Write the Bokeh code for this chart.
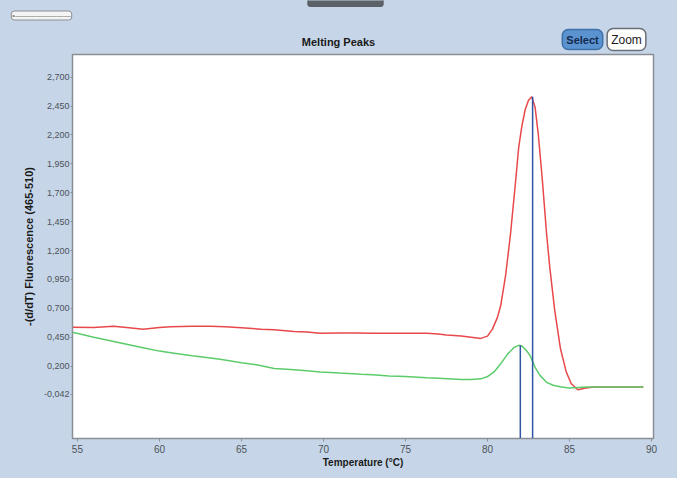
from bokeh.plotting import figure
from bokeh.models import FixedTicker, Range1d, Label
from bokeh.layouts import column, row
from bokeh.embed import file_html
from bokeh.resources import INLINE

# ---- data ----
red_temp = [54.7, 56, 57.2, 58, 59, 60, 60.7, 62, 63.1, 64, 65, 66.2, 67, 68.2, 69, 69.8, 71, 72,
            73, 74.3, 75, 76.3, 77, 77.5, 78.4, 79.0, 79.6, 80.0, 80.3, 80.6, 80.8, 81.1, 81.4, 81.7,
            81.9, 82.1, 82.3, 82.5, 82.7, 82.9, 83.1, 83.35, 83.6, 83.8, 84.1, 84.45, 84.8, 85.1,
            85.5, 86, 86.5, 87, 88, 89, 89.5]
red_val = [0.537, 0.535, 0.546, 0.535, 0.52, 0.535, 0.54, 0.545, 0.546, 0.54, 0.532, 0.52, 0.515,
           0.50, 0.495, 0.485, 0.487, 0.486, 0.485, 0.485, 0.485, 0.485, 0.478, 0.47, 0.46, 0.45,
           0.44, 0.46, 0.52, 0.62, 0.72, 0.98, 1.34, 1.78, 2.09, 2.28, 2.42, 2.50, 2.53, 2.44, 2.20,
           1.80, 1.35, 1.05, 0.68, 0.35, 0.15, 0.05, -0.005, 0.01, 0.02, 0.02, 0.02, 0.02, 0.02]

green_temp = [54.7, 56, 57, 58, 59, 60, 61, 62, 63.7, 65, 66, 67, 68, 69, 69.8, 71, 72.3, 73, 74,
              75, 76.3, 77, 78.4, 79, 79.6, 80.0, 80.4, 80.8, 81.2, 81.6, 81.9, 82.1, 82.4, 82.6,
              82.9, 83.2, 83.6, 84.0, 84.5, 85, 86, 87, 88, 89.5]
green_val = [0.493, 0.45, 0.42, 0.39, 0.36, 0.33, 0.31, 0.29, 0.26, 0.23, 0.21, 0.18, 0.17, 0.16,
             0.15, 0.14, 0.13, 0.125, 0.115, 0.11, 0.10, 0.095, 0.085, 0.085, 0.09, 0.11, 0.15,
             0.22, 0.30, 0.36, 0.38, 0.375, 0.33, 0.29, 0.19, 0.12, 0.06, 0.035, 0.02, 0.01, 0.02,
             0.02, 0.02, 0.02]

peak_temp = [82.0, 82.75]
peak_val = [0.38, 2.53]

y_ticks = [-0.042, 0.2, 0.45, 0.7, 0.95, 1.2, 1.45, 1.7, 1.95, 2.2, 2.45, 2.7]
y_tick_labels = ["-0,042", "0,200", "0,450", "0,700", "0,950", "1,200", "1,450", "1,700",
                 "1,950", "2,200", "2,450", "2,700"]
x_ticks = [55, 60, 65, 70, 75, 80, 85, 90]

BG = "#c6d6e8"
Y_START, Y_END = -0.426, 2.896
W = 677
TOP_H = 53

# ---- header strip: title, buttons and window decorations ----
top = figure(width=W, height=TOP_H, x_range=Range1d(0, W), y_range=Range1d(TOP_H, 0),
             x_axis_type=None, y_axis_type=None, min_border=0,
             output_backend="svg", toolbar_location=None,
             background_fill_color=BG, border_fill_color=BG, outline_line_color=None)
top.grid.visible = False

header = [
    Label(x=338, y=41, text="Melting Peaks", text_align="center", text_baseline="middle",
          text_font="Liberation Sans", text_font_size="11px", text_font_style="bold",
          text_color="#1a1a1a"),
    Label(x=582, y=39, text="Select", text_align="center", text_baseline="middle",
          text_font="Liberation Sans", text_font_size="11px", text_font_style="bold",
          text_color="#13294d", background_fill_color="#5b93d0", border_line_color="#3d6fa8",
          border_line_width=1.5, padding=4, border_radius=6),
    Label(x=626, y=39, text="Zoom", text_align="center", text_baseline="middle",
          text_font="Liberation Sans", text_font_size="12px",
          text_color="#1a1a1a", background_fill_color="white", border_line_color="#6a6f76",
          border_line_width=1.5, padding=4, border_radius=6),
    Label(x=41, y=15, text="\u2022" + "\u2014" * 8, text_align="center", text_baseline="middle",
          text_font="Liberation Sans", text_font_size="7px", text_color="#777777",
          background_fill_color="#f4f4f4", border_line_color="#8a8f96",
          border_line_width=1, padding=1, border_radius=3),
    Label(x=345, y=2, text=" " * 44, text_align="center", text_baseline="middle",
          text_font="Liberation Sans", text_font_size="6px", text_color="#555555",
          background_fill_color="#5d6168", border_line_color="#5d6168",
          padding=1, border_radius=2),
]
for lab in header:
    top.add_layout(lab)

# ---- main chart ----
p = figure(frame_width=581, frame_height=384,
           min_border_left=72, min_border_right=24, min_border_top=1, min_border_bottom=40,
           x_range=Range1d(54.7, 90.12), y_range=Range1d(Y_START, Y_END),
           output_backend="svg", toolbar_location=None,
           background_fill_color="white", border_fill_color=BG,
           outline_line_color="#8a8f96", outline_line_width=1.5)

p.grid.visible = False

p.xaxis.ticker = FixedTicker(ticks=x_ticks)
p.yaxis.ticker = FixedTicker(ticks=y_ticks)
p.yaxis.major_label_overrides = {t: s for t, s in zip(y_ticks, y_tick_labels)}

for ax in (p.xaxis[0], p.yaxis[0]):
    ax.axis_line_color = "#8a8f96"
    ax.major_tick_line_color = "#8a8f96"
    ax.minor_tick_line_color = None
    ax.major_tick_in = 0
    ax.major_tick_out = 3
    ax.major_label_text_font = "Liberation Sans"
    ax.major_label_text_font_size = "9px"
    ax.major_label_text_color = "#4d5258"
    ax.major_label_standoff = 2
    ax.axis_label_text_font = "Liberation Sans"
    ax.axis_label_text_font_style = "bold"
    ax.axis_label_text_color = "#1a1a1a"

p.yaxis.major_tick_out = 2
p.yaxis.major_label_standoff = 1
p.xaxis.major_label_text_font_size = "10px"
p.xaxis.major_label_standoff = 3
p.xaxis.axis_label = "Temperature (°C)"
p.xaxis.axis_label_text_font_size = "10px"
p.xaxis.axis_label_standoff = 1
p.yaxis.axis_label = "-(d/dT) Fluorescence (465-510)"
p.yaxis.axis_label_text_font_size = "11px"
p.yaxis.axis_label_standoff = 6

p.line(red_temp, red_val, line_color="#e8484a", line_width=1.5)
p.line(green_temp, green_val, line_color="#5ccc6a", line_width=1.5)
p.segment(x0=peak_temp, y0=[Y_START] * len(peak_temp), x1=peak_temp, y1=peak_val,
          line_color="#2f55a4", line_width=1.5)

layout = column(row(top, spacing=0), row(p, spacing=0), spacing=0,
                styles={"background-color": BG})

html = file_html(layout, INLINE)
html = html.replace("</head>", "<style>html, body {background-color: %s;}</style></head>" % BG, 1)
open("out.html", "w").write(html)
